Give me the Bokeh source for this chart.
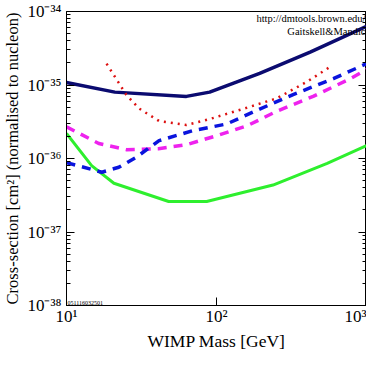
from bokeh.plotting import figure
from bokeh.models import LogAxis, FixedTicker, Title, Range1d
from bokeh.embed import file_html
from bokeh.resources import INLINE

# ---- data ----
navy_mass = [10, 21, 63, 90, 194, 421, 1000]
navy_xs = [1.08e-35, 8.0e-36, 7.0e-36, 8.0e-36, 1.44e-35, 2.8e-35, 6.3e-35]

green_mass = [10, 14.7, 20.7, 48, 86, 238, 547, 1000]
green_xs = [2.2e-36, 8.0e-37, 4.6e-37, 2.6e-37, 2.6e-37, 4.35e-37, 8.6e-37, 1.5e-36]

magenta_mass = [10, 16.4, 25, 41, 63, 100, 159, 253, 441, 781, 1000]
magenta_xs = [2.7e-36, 1.6e-36, 1.32e-36, 1.36e-36, 1.54e-36, 2.04e-36, 2.77e-36,
              4.4e-36, 7.0e-36, 1.22e-35, 1.62e-35]

blue_mass = [10, 17.2, 22.3, 29, 41.4, 69, 117, 194, 324, 601, 1000]
blue_xs = [8.8e-37, 6.5e-37, 7.6e-37, 1.03e-36, 1.75e-36, 2.38e-36, 2.95e-36,
           4.7e-36, 7.4e-36, 1.22e-35, 1.95e-35]

red_mass = [18.5, 25, 30.4, 41.4, 63, 90, 149, 253, 402, 573]
red_xs = [1.95e-35, 7.4e-36, 4.8e-36, 3.24e-36, 2.86e-36, 3.44e-36, 4.7e-36,
          6.6e-36, 1.11e-35, 1.77e-35]

x_ticks = [10, 100, 1000]
x_tick_labels = ["10\u00b9", "10\u00b2", "10\u00b3"]
y_ticks = [1e-38, 1e-37, 1e-36, 1e-35, 1e-34]
y_tick_labels = ["10\u207b\u00b3\u2078", "10\u207b\u00b3\u2077", "10\u207b\u00b3\u2076",
                 "10\u207b\u00b3\u2075", "10\u207b\u00b3\u2074"]
credit_lines = ["http://dmtools.brown.edu/", "Gaitskell&Mandic"]
stamp = "051116032501"
x_title = "WIMP Mass [GeV]"
y_title = "Cross-section [cm\u00b2] (normalised to nucleon)"

SERIF = "Liberation Serif"

p = figure(width=366, height=350, x_axis_type="log", y_axis_type="log",
           x_range=Range1d(10, 1000), y_range=Range1d(1e-38, 1e-34),
           output_backend="svg", toolbar_location=None,
           min_border_left=61, min_border_right=0, min_border_top=11,
           min_border_bottom=0, background_fill_color="white",
           border_fill_color="white")
p.outline_line_color = "black"
p.outline_line_width = 1
p.grid.visible = False

# axes styling
for ax in (p.xaxis[0], p.yaxis[0]):
    ax.major_tick_in = 8
    ax.major_tick_out = 0
    ax.minor_tick_in = 4
    ax.minor_tick_out = 0
    ax.axis_line_color = "black"
    ax.major_label_text_font = SERIF
    ax.major_label_text_font_size = "17px"
    ax.major_label_text_color = "black"
    ax.axis_label_text_font = SERIF
    ax.axis_label_text_font_style = "normal"
    ax.axis_label_text_color = "black"

p.xaxis.ticker = FixedTicker(ticks=x_ticks, minor_ticks=[])
p.xaxis.major_label_overrides = {t: s for t, s in zip(x_ticks, x_tick_labels)}
p.xaxis.major_label_standoff = 1

minor_y = [m * 10.0 ** e for e in range(-38, -34) for m in range(2, 10)]
p.yaxis.ticker = FixedTicker(ticks=y_ticks, minor_ticks=minor_y)
p.yaxis.major_label_overrides = {t: s for t, s in zip(y_ticks, y_tick_labels)}
p.yaxis.axis_label = y_title
p.yaxis.axis_label_text_font_size = "16.5px"
p.yaxis.major_label_standoff = 5
p.yaxis.axis_label_standoff = 2

# right axis with inward ticks only (labels hidden)
ra = LogAxis(ticker=FixedTicker(ticks=y_ticks, minor_ticks=minor_y),
             major_tick_in=8, major_tick_out=0, minor_tick_in=4, minor_tick_out=0,
             major_label_text_alpha=0, major_label_text_font_size="1px",
             major_label_standoff=0, axis_line_color="black")
p.add_layout(ra, "right")

# x-axis title as a "below" title
p.add_layout(Title(text=x_title, align="center", standoff=0, offset=0,
                   text_font=SERIF, text_font_size="17.5px",
                   text_font_style="normal", text_color="black"), "below")

# curves
p.line(navy_mass, navy_xs, line_color="#0b0b70", line_width=3.5)
p.line(green_mass, green_xs, line_color="#2eef2e", line_width=3)
p.line(magenta_mass, magenta_xs, line_color="#ee22ee", line_width=3.5, line_dash="9 7")
p.line(blue_mass, blue_xs, line_color="#0a14dd", line_width=3.5, line_dash="9 7")
p.line(red_mass, red_xs, line_color="#dd1111", line_width=2.5, line_dash="2 5")

# annotations
p.text(x=[1000], y=[1e-34], text=[credit_lines[0]], text_align="right",
       text_baseline="top", x_offset=-1, y_offset=1, text_font={"value": SERIF},
       text_font_size="10.5px", text_color="black")
p.text(x=[1000], y=[1e-34], text=[credit_lines[1]], text_align="right",
       text_baseline="top", x_offset=-1, y_offset=14, text_font={"value": SERIF},
       text_font_size="10.5px", text_color="black")
p.text(x=[10], y=[1e-38], text=[stamp], text_align="left",
       text_baseline="bottom", x_offset=1, y_offset=-1, text_font={"value": SERIF},
       text_font_size="6px", text_color="black")

open("out.html", "w").write(file_html(p, INLINE))
